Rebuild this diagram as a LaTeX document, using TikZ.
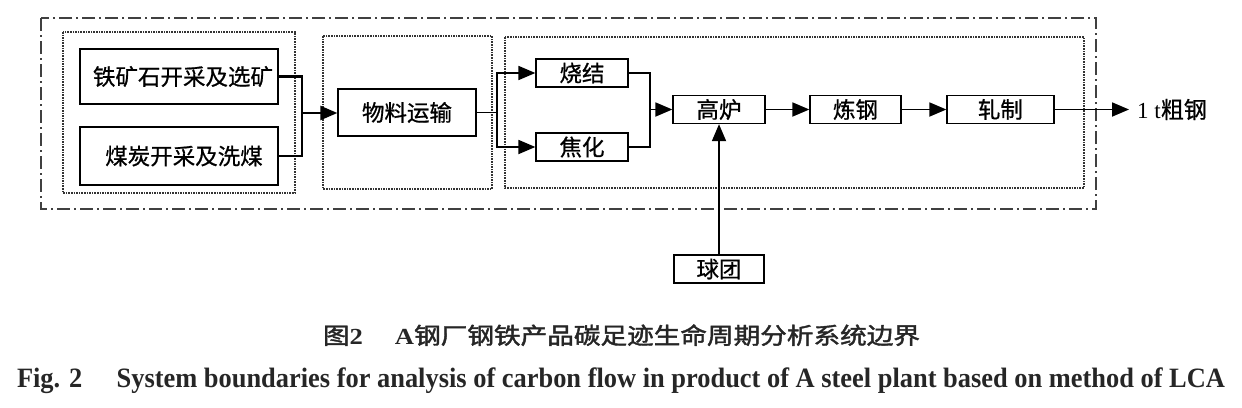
\documentclass[tikz,border=0pt]{standalone}
\usepackage{fontspec}
\setmainfont{Liberation Serif}
\newfontfamily\cjk[FakeBold=0.8]{Noto Sans CJK SC}
\newfontfamily\cjkcap[FakeBold=1.6]{Noto Sans CJK SC}
\usetikzlibrary{arrows.meta}
\newsavebox\capboxA
\newsavebox\capboxB
\newdimen\capdim
\tikzset{
  procbox/.style={draw=black, line width=1.3pt, rectangle, inner sep=0pt, font=\cjk\fontsize{22.5}{24}\selectfont},
  groupbox/.style={draw=black!80, line width=1.8pt, dash pattern=on 1.6pt off 1pt},
  outerbox/.style={draw=black!75, line width=1.3pt, dash pattern=on 13pt off 4pt on 2pt off 4pt},
  conn/.style={draw=black, line width=1.8pt},
  thickconn/.style={draw=black, line width=2.3pt},
  arr/.style={-{Triangle[length=17pt,width=14pt]}},
}
\begin{document}
\begin{tikzpicture}[x=1pt,y=-1pt]
\useasboundingbox (0,0) rectangle (1242,407);
% boundaries
\draw[outerbox] (41,18) rectangle (1096,209);
\draw[groupbox] (63,32) rectangle (295,193);
\draw[groupbox] (323,36) rectangle (492,189);
\draw[groupbox] (505,37) rectangle (1084,188);
% boxes
\node[procbox, minimum width=198, minimum height=55] (b1) at (179,76.5) {\hspace*{8pt}铁矿石开采及选矿};
\node[procbox, minimum width=198, minimum height=58] (b2) at (179,156) {\hspace*{10pt}煤炭开采及洗煤};
\node[procbox, minimum width=138, minimum height=47] (wl) at (407,112.5) {物料运输};
\node[procbox, minimum width=92, minimum height=28] (sj) at (582,73) {烧结};
\node[procbox, minimum width=92, minimum height=28] (jh) at (582,147) {焦化};
\node[procbox, minimum width=92, minimum height=28] (gl) at (719,109.5) {高炉};
\node[procbox, minimum width=91, minimum height=28] (lg) at (855.5,109.5) {炼钢};
\node[procbox, minimum width=107, minimum height=28] (zz) at (1000.5,109.5) {\raisebox{2pt}{轧制}};
\node[procbox, minimum width=90, minimum height=28] (qt) at (719,269) {球团};
\node[anchor=west, inner sep=0pt, font=\fontsize{23}{24}\selectfont] (out) at (1137,109.5) {1 t{\cjk 粗钢}};
% connectors
\coordinate (j1) at (302,113);
\coordinate (j2) at (497,112.5);
\coordinate (j3) at (650,109.5);
\draw[thickconn] (b1.east) -| (j1) |- (b2.east);
\draw[thickconn, arr] (j1) -- (j1 -| wl.west);
\draw[conn] (wl.east) -- (j2);
\draw[conn, arr] (j2) |- (sj.west);
\draw[conn, arr] (j2) |- (jh.west);
\draw[conn] (sj.east) -| (j3) |- (jh.east);
\draw[conn, arr] (j3) -- (gl.west);
\draw[conn, arr] (gl.east) -- (lg.west);
\draw[conn, arr] (lg.east) -- (zz.west);
\draw[conn, arr] (zz.east) -- ([xshift=-8pt]out.west);
\draw[conn, arr] (qt.north) -- (gl.south);
% captions
\node[anchor=base, inner sep=0pt, text=black!85] (capA) at (621.5,344) {%
  \sbox\capboxA{\fontsize{23}{26}\selectfont{\cjkcap 图}{\bfseries 2}\hspace{1.2em}{\bfseries A}{\cjkcap 钢厂钢铁产品碳足迹生命周期分析系统边界}}%
  \capdim=\wd\capboxA
  \pgfmathsetmacro\sxA{597/\capdim}%
  \scalebox{\sxA}[1]{\usebox\capboxA}};
\node[anchor=base, inner sep=0pt, text=black!85] (capB) at (621,387) {%
  \sbox\capboxB{\fontsize{28}{30}\selectfont\bfseries Fig. 2\hspace{1.3em}System boundaries for analysis of carbon flow in product of A steel plant based on method of LCA}%
  \capdim=\wd\capboxB
  \pgfmathsetmacro\sxB{1208/\capdim}%
  \scalebox{\sxB}[1]{\usebox\capboxB}};
\end{tikzpicture}
\end{document}
